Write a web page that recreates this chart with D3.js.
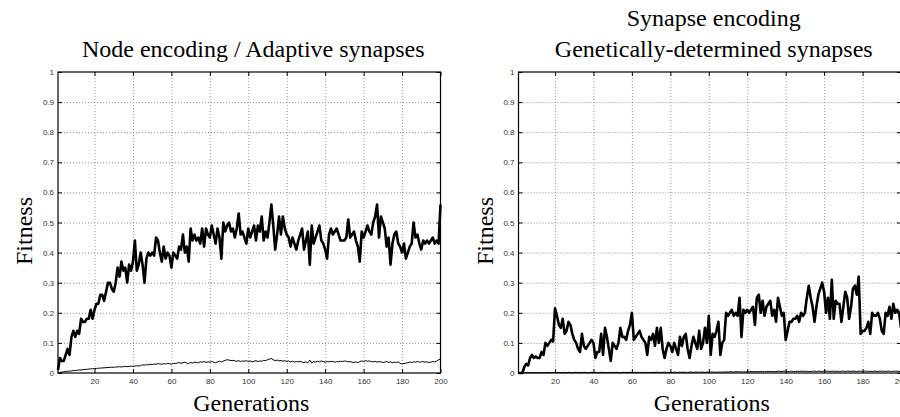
<!DOCTYPE html>
<html>
<head>
<meta charset="utf-8">
<script src="https://cdn.jsdelivr.net/npm/d3@7"></script>
<style>
body { margin: 0; background: #fff; }
svg { display: block; }
</style>
</head>
<body>
<svg id="chart" width="900" height="417"></svg>
<script>
// generations 1..200 on the x axis
var generations = d3.range(1, 201);
var xTicks = [20, 40, 60, 80, 100, 120, 140, 160, 180, 200];
var yTicks = [0, 0.1, 0.2, 0.3, 0.4, 0.5, 0.6, 0.7, 0.8, 0.9, 1];

// node encoding / adaptive synapses: best and mean fitness
var nodeBest = [
    0.01,0.05,0.04,0.04,0.06,0.08,0.06,0.12,0.14,0.12,
    0.14,0.13,0.18,0.17,0.17,0.18,0.18,0.21,0.18,0.21,
    0.23,0.23,0.26,0.26,0.24,0.27,0.30,0.30,0.28,0.27,
    0.30,0.35,0.32,0.37,0.34,0.35,0.30,0.36,0.34,0.37,
    0.44,0.34,0.36,0.40,0.36,0.30,0.38,0.40,0.39,0.40,
    0.39,0.45,0.44,0.40,0.37,0.42,0.38,0.40,0.39,0.35,
    0.40,0.39,0.38,0.42,0.41,0.46,0.40,0.42,0.37,0.48,
    0.44,0.46,0.44,0.45,0.43,0.48,0.42,0.48,0.46,0.45,
    0.49,0.46,0.43,0.48,0.45,0.38,0.50,0.47,0.49,0.50,
    0.47,0.48,0.45,0.48,0.53,0.46,0.47,0.45,0.43,0.48,
    0.45,0.47,0.49,0.44,0.49,0.47,0.52,0.44,0.47,0.45,
    0.50,0.56,0.49,0.41,0.46,0.52,0.46,0.52,0.48,0.46,
    0.45,0.42,0.45,0.43,0.41,0.44,0.46,0.48,0.41,0.44,
    0.47,0.36,0.49,0.43,0.45,0.47,0.49,0.44,0.43,0.41,
    0.38,0.46,0.48,0.46,0.47,0.48,0.46,0.44,0.44,0.44,
    0.45,0.51,0.45,0.46,0.47,0.44,0.42,0.37,0.47,0.45,
    0.47,0.49,0.47,0.46,0.50,0.52,0.56,0.45,0.52,0.50,
    0.48,0.42,0.45,0.36,0.43,0.46,0.47,0.43,0.42,0.40,
    0.43,0.38,0.40,0.42,0.43,0.50,0.45,0.46,0.43,0.41,
    0.44,0.43,0.44,0.43,0.44,0.45,0.43,0.44,0.43,0.56
];
var nodeMean = [
    0.000,0.002,0.003,0.004,0.005,0.006,0.006,0.007,0.008,0.008,
    0.009,0.010,0.010,0.011,0.012,0.012,0.013,0.014,0.014,0.015,
    0.015,0.016,0.016,0.017,0.017,0.018,0.018,0.019,0.019,0.019,
    0.020,0.020,0.021,0.020,0.021,0.022,0.021,0.022,0.023,0.022,
    0.023,0.024,0.023,0.025,0.027,0.026,0.028,0.027,0.029,0.028,
    0.030,0.029,0.031,0.030,0.029,0.031,0.030,0.032,0.031,0.029,
    0.032,0.031,0.033,0.035,0.032,0.034,0.036,0.033,0.031,0.035,
    0.033,0.036,0.035,0.034,0.037,0.036,0.038,0.035,0.037,0.036,
    0.038,0.036,0.034,0.037,0.039,0.037,0.040,0.042,0.044,0.043,
    0.041,0.042,0.040,0.039,0.041,0.038,0.040,0.039,0.041,0.038,
    0.040,0.037,0.039,0.041,0.038,0.040,0.039,0.042,0.041,0.044,
    0.046,0.048,0.044,0.041,0.043,0.040,0.042,0.039,0.041,0.038,
    0.040,0.037,0.039,0.036,0.038,0.037,0.039,0.036,0.035,0.037,
    0.034,0.043,0.033,0.038,0.036,0.039,0.037,0.040,0.038,0.036,
    0.038,0.037,0.039,0.038,0.036,0.038,0.037,0.039,0.038,0.040,
    0.039,0.037,0.038,0.036,0.035,0.037,0.034,0.038,0.040,0.038,
    0.041,0.039,0.040,0.038,0.037,0.039,0.036,0.038,0.037,0.035,
    0.036,0.038,0.035,0.037,0.034,0.036,0.035,0.037,0.032,0.030,
    0.031,0.033,0.034,0.036,0.035,0.037,0.036,0.038,0.036,0.037,
    0.038,0.036,0.037,0.035,0.036,0.038,0.037,0.040,0.044,0.046
];

// synapse encoding / genetically-determined synapses
var synBest = [
    0.00,0.00,0.00,0.02,0.03,0.025,0.05,0.06,0.05,0.055,
    0.05,0.05,0.07,0.06,0.10,0.09,0.10,0.11,0.105,0.215,
    0.19,0.16,0.15,0.18,0.13,0.14,0.17,0.16,0.13,0.11,
    0.10,0.08,0.07,0.13,0.09,0.08,0.09,0.10,0.11,0.10,
    0.05,0.07,0.07,0.13,0.06,0.15,0.12,0.08,0.04,0.10,
    0.09,0.08,0.10,0.15,0.12,0.12,0.11,0.14,0.16,0.20,
    0.11,0.12,0.13,0.14,0.12,0.11,0.10,0.06,0.12,0.11,
    0.13,0.09,0.15,0.10,0.15,0.08,0.05,0.08,0.10,0.09,
    0.07,0.10,0.08,0.06,0.12,0.09,0.12,0.13,0.08,0.05,
    0.09,0.12,0.10,0.08,0.14,0.08,0.10,0.15,0.10,0.19,
    0.06,0.13,0.12,0.14,0.17,0.06,0.10,0.11,0.20,0.19,
    0.20,0.21,0.19,0.20,0.19,0.25,0.12,0.21,0.20,0.21,
    0.20,0.21,0.22,0.16,0.25,0.26,0.20,0.24,0.19,0.22,
    0.23,0.24,0.19,0.21,0.17,0.25,0.22,0.19,0.20,0.11,
    0.14,0.17,0.17,0.18,0.18,0.19,0.17,0.20,0.19,0.20,
    0.25,0.29,0.25,0.22,0.17,0.22,0.26,0.28,0.30,0.27,
    0.20,0.25,0.18,0.31,0.18,0.24,0.23,0.23,0.17,0.22,
    0.27,0.25,0.18,0.22,0.28,0.29,0.26,0.32,0.13,0.14,
    0.14,0.15,0.17,0.13,0.20,0.19,0.19,0.20,0.18,0.14,
    0.13,0.20,0.19,0.22,0.18,0.23,0.20,0.21,0.20,0.15
];
var synMean = [
    0.000,0.000,0.001,0.001,0.001,0.001,0.001,0.001,0.001,0.001,
    0.001,0.001,0.001,0.001,0.001,0.002,0.001,0.001,0.002,0.002,
    0.001,0.002,0.001,0.002,0.002,0.001,0.002,0.002,0.001,0.002,
    0.002,0.002,0.001,0.002,0.002,0.002,0.001,0.002,0.002,0.002,
    0.002,0.001,0.002,0.002,0.002,0.002,0.001,0.002,0.002,0.002,
    0.002,0.002,0.002,0.001,0.002,0.002,0.002,0.002,0.002,0.002,
    0.002,0.002,0.002,0.002,0.002,0.002,0.002,0.002,0.002,0.002,
    0.002,0.002,0.003,0.002,0.002,0.002,0.003,0.002,0.002,0.002,
    0.002,0.003,0.002,0.002,0.003,0.002,0.003,0.002,0.002,0.003,
    0.003,0.002,0.003,0.003,0.002,0.003,0.003,0.002,0.003,0.003,
    0.003,0.003,0.003,0.002,0.003,0.003,0.003,0.003,0.004,0.003,
    0.004,0.004,0.003,0.004,0.004,0.004,0.004,0.003,0.004,0.004,
    0.004,0.005,0.004,0.004,0.005,0.004,0.005,0.005,0.004,0.005,
    0.005,0.005,0.005,0.004,0.005,0.006,0.005,0.005,0.006,0.006,
    0.005,0.005,0.006,0.005,0.005,0.006,0.005,0.006,0.006,0.005,
    0.006,0.005,0.005,0.006,0.006,0.005,0.006,0.006,0.005,0.006,
    0.006,0.006,0.005,0.006,0.006,0.005,0.006,0.005,0.006,0.006,
    0.005,0.006,0.006,0.005,0.006,0.006,0.005,0.006,0.006,0.005,
    0.006,0.006,0.005,0.006,0.005,0.006,0.006,0.005,0.006,0.006,
    0.006,0.005,0.006,0.006,0.005,0.006,0.006,0.006,0.005,0.006
];

var leftTitle = ["Node encoding / Adaptive synapses"];
var rightTitle = ["Synapse encoding", "Genetically-determined synapses"];

var svg = d3.select("#chart");

function drawPanel(left, right, titleLines, best, mean) {
    var top = 72, bottom = 373;
    var x = d3.scaleLinear().domain([1, 200]).range([left, right]);
    var y = d3.scaleLinear().domain([0, 1]).range([bottom, top]);
    var g = svg.append("g");

    // dotted grid
    g.append("g")
        .attr("transform", "translate(0," + bottom + ")")
        .call(d3.axisBottom(x).tickValues(xTicks.slice(0, -1)).tickSize(-(bottom - top)).tickFormat(""))
        .call(function (s) {
            s.select(".domain").remove();
            s.selectAll("line").attr("stroke", "#999").attr("stroke-dasharray", "1,2");
        });
    g.append("g")
        .attr("transform", "translate(" + left + ",0)")
        .call(d3.axisLeft(y).tickValues(yTicks.slice(1, -1)).tickSize(-(right - left)).tickFormat(""))
        .call(function (s) {
            s.select(".domain").remove();
            s.selectAll("line").attr("stroke", "#888").attr("stroke-dasharray", "1,2");
        });

    var fmt = function (d) { return d === 0 ? "0" : d === 1 ? "1" : d3.format(".1f")(d); };

    function styleAxis(s) {
        s.select(".domain").remove();
        s.selectAll("line").attr("stroke", "#000");
        s.selectAll("text").attr("fill", "#333")
            .style("font-family", "'Liberation Sans', Arial, sans-serif")
            .style("font-size", "8px");
    }

    g.append("g")
        .attr("transform", "translate(0," + bottom + ")")
        .call(d3.axisBottom(x).tickValues(xTicks).tickSize(-4).tickPadding(5).tickFormat(d3.format("d")))
        .call(styleAxis);
    g.append("g")
        .attr("transform", "translate(0," + top + ")")
        .call(d3.axisTop(x).tickValues(xTicks).tickSize(-4).tickFormat(""))
        .call(styleAxis);
    g.append("g")
        .attr("transform", "translate(" + left + ",0)")
        .call(d3.axisLeft(y).tickValues(yTicks).tickSize(-4).tickPadding(4).tickFormat(fmt))
        .call(styleAxis);
    g.append("g")
        .attr("transform", "translate(" + right + ",0)")
        .call(d3.axisRight(y).tickValues(yTicks).tickSize(-4).tickFormat(""))
        .call(styleAxis);

    var line = d3.line()
        .x(function (d, i) { return x(generations[i]); })
        .y(function (d) { return y(d); });

    g.append("path").datum(mean)
        .attr("fill", "none").attr("stroke", "#000").attr("stroke-width", 1)
        .attr("d", line);
    g.append("path").datum(best)
        .attr("fill", "none").attr("stroke", "#000").attr("stroke-width", 2.6)
        .attr("stroke-linejoin", "round")
        .attr("d", line);

    // box
    g.append("rect")
        .attr("x", left).attr("y", top)
        .attr("width", right - left).attr("height", bottom - top)
        .attr("fill", "none").attr("stroke", "#000").attr("stroke-width", 1.2);

    var cx = (left + right) / 2;
    var serif = "'Liberation Serif', 'Times New Roman', serif";

    g.selectAll(".title").data(titleLines).enter().append("text")
        .attr("x", cx + 4)
        .attr("y", function (d, i) { return 57 - (titleLines.length - 1 - i) * 31; })
        .attr("text-anchor", "middle")
        .style("font-family", serif).style("font-size", "24px")
        .text(function (d) { return d; });

    g.append("text")
        .attr("x", cx + 2).attr("y", 411)
        .attr("text-anchor", "middle")
        .style("font-family", serif).style("font-size", "24px")
        .text("Generations");

    g.append("text")
        .attr("transform", "translate(" + (left - 26) + ",231) rotate(-90)")
        .attr("text-anchor", "middle")
        .style("font-family", serif).style("font-size", "24px")
        .text("Fitness");
}

drawPanel(58, 440.5, leftTitle, nodeBest, nodeMean);
drawPanel(518.5, 901, rightTitle, synBest, synMean);
</script>
</body>
</html>
